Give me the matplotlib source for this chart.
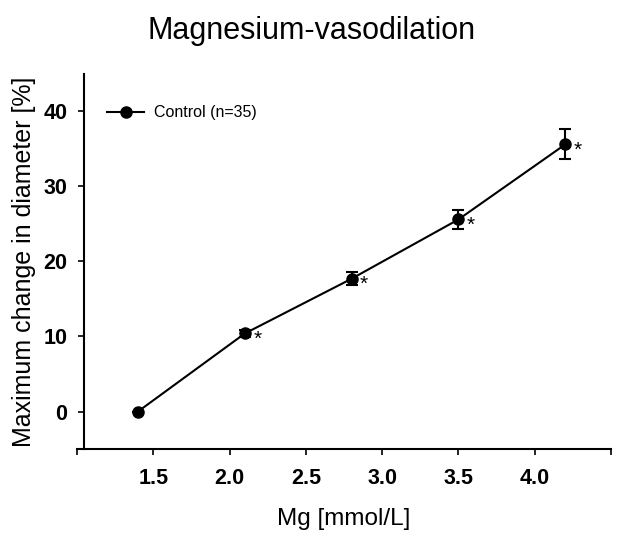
import numpy as np
import matplotlib
matplotlib.use("Agg")
import matplotlib.pyplot as plt

plt.rcParams['font.family'] = ['Liberation Sans', 'DejaVu Sans']

# data
mg = [1.4, 2.1, 2.8, 3.5, 4.2]
diam = [0.0, 10.4, 17.7, 25.6, 35.6]
err = [0.0, 0.5, 0.85, 1.3, 2.0]
signif = ['', '*', '*', '*', '*']

xticks = [1.0, 1.5, 2.0, 2.5, 3.0, 3.5, 4.0, 4.5]
xticklabels = ['', '1.5', '2.0', '2.5', '3.0', '3.5', '4.0', '']
yticks = [0, 10, 20, 30, 40]

fig = plt.figure(figsize=(6.23, 5.36), dpi=100)
ax = fig.add_axes([0.1236, 0.1623, 0.857, 0.6997])

ax.errorbar(mg, diam, yerr=err, fmt='none', ecolor='black',
            capsize=4.5, capthick=1.5, elinewidth=1.5)
ax.plot(mg, diam, color='black', lw=1.5, marker='o', ms=8,
        label='Control (n=35)')

for x, y, s in zip(mg, diam, signif):
    if s:
        ax.annotate(s, xy=(x, y), xytext=(6, -4), textcoords='offset points',
                    fontsize=15, ha='left', va='center')

ax.set_xlim(1.0, 4.5)
ax.set_ylim(-5, 45)
ax.set_xticks(xticks)
ax.set_xticklabels(xticklabels)
ax.set_yticks(yticks)

for s in ['top', 'right']:
    ax.spines[s].set_visible(False)
ax.spines['left'].set_position(('outward', -5))
for s in ['left', 'bottom']:
    ax.spines[s].set_linewidth(1.5)

ax.tick_params(direction='out', length=4, width=1.2, labelsize=15.5)
ax.tick_params(axis='y', pad=8)
ax.tick_params(axis='x', pad=10)
for lab in ax.get_xticklabels() + ax.get_yticklabels():
    lab.set_fontweight('bold')

ax.set_xlabel('Mg [mmol/L]', fontsize=17.5, labelpad=13)
ax.set_ylabel('Maximum change in diameter [%]', fontsize=18, labelpad=5)
fig.suptitle('Magnesium-vasodilation', fontsize=22, x=0.5, y=0.97)

ax.legend(loc='upper left', bbox_to_anchor=(0.03, 0.955), frameon=False,
          fontsize=11.5, handlelength=2.3, handletextpad=0.6, numpoints=1)

fig.savefig('out.png', dpi=100)
